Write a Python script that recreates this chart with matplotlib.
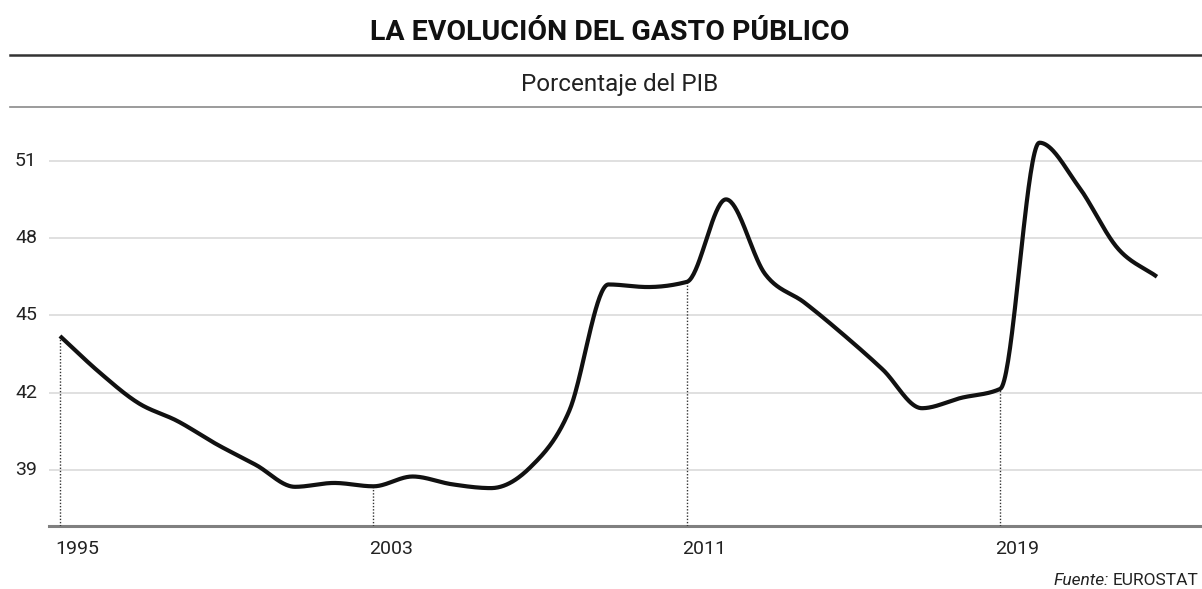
import matplotlib
matplotlib.use("Agg")
import matplotlib.pyplot as plt
import numpy as np

# datos: gasto publico en % del PIB
years = list(range(1995, 2024))
gasto = [44.2, 42.8, 41.6, 40.9, 40.0, 39.2, 38.35, 38.5, 38.37, 38.75,
         38.45, 38.3, 39.1, 41.3, 46.2, 46.1, 46.3, 49.5, 46.6, 45.5,
         44.25, 42.9, 41.4, 41.8, 42.15, 51.7, 50.0, 47.6, 46.5]
y_ticks = [39, 42, 45, 48, 51]
x_ticks = [1995, 2003, 2011, 2019]

titulo = "LA EVOLUCIÓN DEL GASTO PÚBLICO"
subtitulo = "Porcentaje del PIB"
fuente = "EUROSTAT"

plt.rcParams['font.family'] = ['Roboto', 'DejaVu Sans']


def monotone_curve(x, y, n=40):
    """curva monotona (tipo d3 curveMonotoneX) para dibujar la linea suave"""
    x = np.asarray(x, float)
    y = np.asarray(y, float)
    h = np.diff(x)
    s = np.diff(y) / h
    m = np.zeros_like(y)
    for i in range(1, len(y) - 1):
        if s[i - 1] * s[i] <= 0:
            m[i] = 0
        else:
            p = (s[i - 1] * h[i] + s[i] * h[i - 1]) / (h[i - 1] + h[i])
            m[i] = (np.sign(s[i - 1]) + np.sign(s[i])) * min(abs(s[i - 1]), abs(s[i]), 0.5 * abs(p))
    m[0] = s[0]
    m[-1] = s[-1]
    xs, ys = [], []
    for i in range(len(x) - 1):
        t = np.linspace(0, 1, n, endpoint=False)
        h00 = 2 * t**3 - 3 * t**2 + 1
        h10 = t**3 - 2 * t**2 + t
        h01 = -2 * t**3 + 3 * t**2
        h11 = t**3 - t**2
        xs.append(x[i] + t * h[i])
        ys.append(h00 * y[i] + h10 * h[i] * m[i] + h01 * y[i + 1] + h11 * h[i] * m[i + 1])
    xs.append([x[-1]])
    ys.append([y[-1]])
    return np.concatenate(xs), np.concatenate(ys)


W, H = 1202, 589
fig = plt.figure(figsize=(W / 100, H / 100), dpi=100)
ax = fig.add_axes([49 / W, 63 / H, 1 - 49 / W, 406 / H])
y_min, y_max = 36.83, 52.58

# titulo, subtitulo y lineas de separacion
fig.text(610 / W, 1 - 39.5 / H, titulo, ha='center', va='baseline', fontsize=20.5,
         fontweight='bold', color='#111111')
fig.add_artist(plt.Line2D([10 / W, 1], [1 - 54.5 / H] * 2, color='#333333', lw=1.8))
fig.text(620 / W, 1 - 91 / H, subtitulo, ha='center', va='baseline', fontsize=17.5, color='#222222')
fig.add_artist(plt.Line2D([10 / W, 1], [1 - 106.5 / H] * 2, color='#8a8a8a', lw=1.2))

ax.set_xlim(1994.72, 2024.15)
ax.set_ylim(y_min, y_max)

for v in y_ticks:
    ax.axhline(v, color='#e0e0e0', lw=1.4, zorder=1)
    fig.text(15 / W, ax.transData.transform((0, v))[1] / H, str(v), ha='left',
             va='center', fontsize=14, color='#222222')

ax.axhline(y_min, color='#808080', lw=2.2, zorder=2, clip_on=False)

# lineas punteadas en los anos marcados
off = matplotlib.transforms.ScaledTranslation(0, -14 / 100, fig.dpi_scale_trans)
for yr in x_ticks:
    val = gasto[years.index(yr)]
    ax.plot([yr, yr], [y_min, val], color='#333333', lw=1, ls=(0, (1, 1.3)), zorder=2)
    ax.text(yr - 0.12, y_min, str(yr), transform=ax.transData + off, ha='left', va='top',
            fontsize=14, color='#222222')

xs, ys = monotone_curve(years, gasto)
ax.plot(xs, ys, color='#111111', lw=3, solid_capstyle='butt', zorder=3)

ax.set_xticks([])
ax.set_yticks([])
for sp in ax.spines.values():
    sp.set_visible(False)
ax.patch.set_visible(False)

# fuente al pie
t_src = fig.text(1199 / W, 1 - 585 / H, fuente, ha='right', va='baseline',
                 fontsize=12.5, color='#222222')
fig.canvas.draw()
bb = t_src.get_window_extent()
fig.text((bb.x0 - 4) / W, 1 - 585 / H, "Fuente:", ha='right', va='baseline',
         fontsize=12.5, style='italic', color='#222222')

fig.savefig("out.png", dpi=100)
